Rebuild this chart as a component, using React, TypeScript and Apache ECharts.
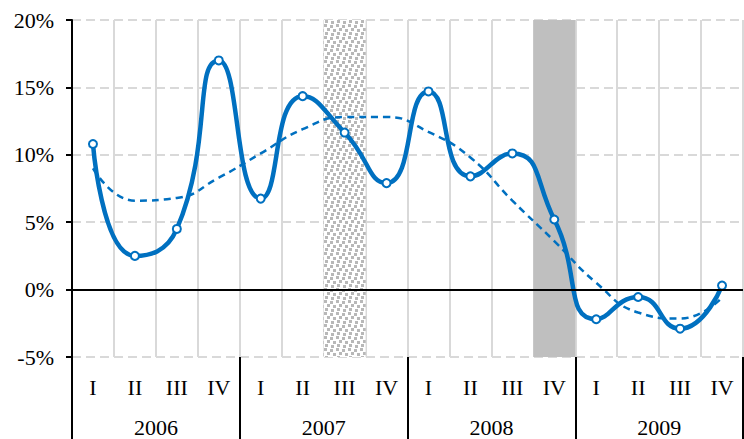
import React, { useEffect, useRef } from "react";
import * as echarts from "echarts";

const quarters = ["I", "II", "III", "IV", "I", "II", "III", "IV", "I", "II", "III", "IV", "I", "II", "III", "IV"];
const years = ["2006", "2007", "2008", "2009"];
const growth = [10.8, 2.5, 4.5, 17.0, 6.75, 14.35, 11.65, 7.9, 14.7, 8.4, 10.1, 5.2, -2.2, -0.55, -2.9, 0.3];
const trend = [9.0, 6.6, 6.8, 8.3, 10.1, 11.9, 12.8, 12.8, 11.7, 9.8, 6.6, 3.6, 0.5, -1.7, -2.15, -0.6];
const patternIndex = 6; // 2007 III
const greyIndex = 11; // 2008 IV
const yTicks = { min: -5, max: 20, interval: 5 };

const BLUE = "#0070C0";
const FONT = "'Liberation Serif', 'Times New Roman', serif";

function makePattern(): HTMLCanvasElement {
  const c = document.createElement("canvas");
  c.width = 12;
  c.height = 12;
  const ctx = c.getContext("2d")!;
  ctx.fillStyle = "#ffffff";
  ctx.fillRect(0, 0, 12, 12);
  ctx.fillStyle = "#B8B8B8";
  const sq: [number, number][] = [
    [0, 0], [6, 1], [3, 4], [9, 5], [1, 8], [7, 9],
  ];
  sq.forEach(([x, y]) => ctx.fillRect(x, y, 3, 3));
  return c;
}

export default function App() {
  const ref = useRef<HTMLDivElement>(null);
  useEffect(() => {
    document.body.style.margin = "0";
    const chart = echarts.init(ref.current!, null, { renderer: "svg" });
    const pattern = { image: makePattern(), repeat: "repeat" };
    const shadeTop = quarters.map((_, i) =>
      i === patternIndex
        ? { value: yTicks.max, itemStyle: { color: pattern } }
        : i === greyIndex
        ? { value: yTicks.max, itemStyle: { color: "#BFBFBF" } }
        : null
    );
    const shadeBottom = quarters.map((_, i) =>
      i === patternIndex
        ? { value: yTicks.min, itemStyle: { color: pattern } }
        : i === greyIndex
        ? { value: yTicks.min, itemStyle: { color: "#BFBFBF" } }
        : null
    );
    chart.setOption({
      animation: false,
      backgroundColor: "#ffffff",
      grid: { left: 72, right: 1, top: 20, bottom: 82 },
      xAxis: [
        {
          type: "category",
          data: quarters,
          position: "bottom",
          boundaryGap: true,
          axisLine: { show: false },
          axisTick: { show: false },
          axisLabel: { color: "#000", fontFamily: FONT, fontSize: 22, margin: 19, interval: 0 },
          splitLine: { show: true, interval: 0, lineStyle: { color: "#D9D9D9", width: 2, type: "solid" } },
        },
        {
          type: "category",
          data: years,
          position: "bottom",
          boundaryGap: true,
          axisLine: { show: false },
          axisTick: { show: true, length: 82, inside: false, lineStyle: { color: "#000", width: 2 } },
          axisLabel: { color: "#000", fontFamily: FONT, fontSize: 22, margin: 59, interval: 0 },
          splitLine: { show: false },
        },
      ],
      yAxis: {
        type: "value",
        min: yTicks.min,
        max: yTicks.max,
        interval: yTicks.interval,
        axisLine: { show: true, lineStyle: { color: "#000", width: 2 } },
        axisTick: { show: true, length: 6, lineStyle: { color: "#000", width: 2 } },
        axisLabel: { color: "#000", fontFamily: FONT, fontSize: 22, margin: 18, formatter: "{value}%" },
        splitLine: { show: true, lineStyle: { color: "#D9D9D9", width: 2, type: [9, 5] } },
      },
      series: [
        {
          type: "bar",
          stack: "shade",
          data: shadeTop,
          barWidth: "100%",
          silent: true,
          z: 1,
        },
        {
          type: "bar",
          stack: "shade",
          data: shadeBottom,
          barWidth: "100%",
          silent: true,
          z: 1,
        },
        {
          type: "line",
          data: trend,
          smooth: true,
          showSymbol: false,
          symbol: "none",
          lineStyle: { color: BLUE, width: 2.5, type: [7, 5] },
          itemStyle: { color: BLUE },
          z: 3,
        },
        {
          type: "line",
          data: growth,
          smooth: 0.55,
          symbol: "circle",
          symbolSize: 8,
          lineStyle: { color: BLUE, width: 4.5 },
          itemStyle: { color: "#ffffff", borderColor: BLUE, borderWidth: 2 },
          z: 4,
          markLine: {
            silent: true,
            symbol: ["none", "none"],
            label: { show: false },
            lineStyle: { color: "#000", width: 2, type: "solid" },
            data: [{ yAxis: 0 }],
          },
        },
      ],
    });
    return () => chart.dispose();
  }, []);
  return <div ref={ref} style={{ position: "absolute", left: 0, top: 0, width: 744, height: 439 }} />;
}
